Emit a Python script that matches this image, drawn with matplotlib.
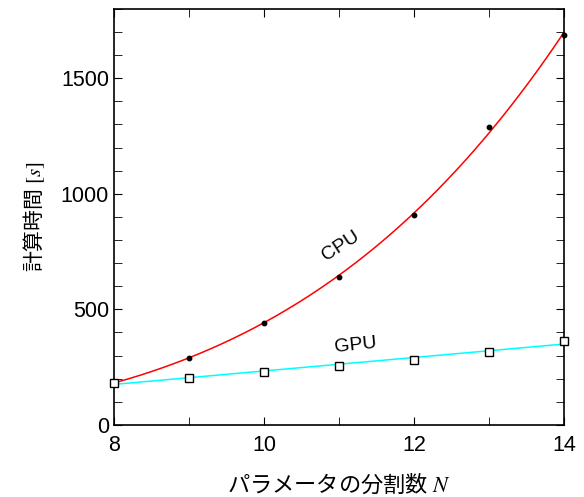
import matplotlib
matplotlib.use('Agg')
import matplotlib.pyplot as plt
import numpy as np
from matplotlib.ticker import MultipleLocator

plt.rcParams['font.family'] = ['Liberation Sans', 'Noto Sans CJK JP', 'DejaVu Sans']
plt.rcParams['mathtext.fontset'] = 'stix'

# 分割数 N
n = [8, 9, 10, 11, 12, 13, 14]
# CPU の計算時間 [s]
cpu = [182, 290, 441, 640, 909, 1290, 1688]
# GPU の計算時間 [s]
gpu = [183, 205, 231, 257, 283, 317, 363]

fig = plt.figure(figsize=(5.84, 4.97), dpi=100)
ax = fig.add_axes([0.195, 0.145, 0.771, 0.837])

# 近似曲線: CPU は N^4, GPU は 1 次式
nn = np.linspace(8, 14, 200)
x = np.array(n, dtype=float)
c4 = np.sum(np.array(cpu) * x ** 4) / np.sum(x ** 8)
ax.plot(nn, c4 * nn ** 4, color='red', lw=1.1, zorder=2)
p = np.polyfit(x, gpu, 1)
ax.plot(nn, np.polyval(p, nn), color='cyan', lw=1.1, zorder=2)

ax.plot(n, cpu, 'o', color='black', ms=3.2, zorder=3, clip_on=False)
ax.plot(n, gpu, 's', mfc='white', mec='black', mew=1.0, ms=5.5, zorder=4, clip_on=False)

ax.text(11.02, 775, 'CPU', fontsize=14, rotation=33, ha='center', va='center')
ax.text(11.22, 346, 'GPU', fontsize=14, rotation=6, ha='center', va='center')

ax.set_xlim(8, 14)
ax.set_ylim(0, 1800)
ax.xaxis.set_major_locator(MultipleLocator(2))
ax.xaxis.set_minor_locator(MultipleLocator(1))
ax.yaxis.set_major_locator(MultipleLocator(500))
ax.yaxis.set_minor_locator(MultipleLocator(100))
ax.tick_params(which='both', direction='in', top=True, right=True, labelsize=15.5)
ax.tick_params(which='major', length=6)
ax.tick_params(which='minor', length=6)
ax.tick_params(axis='x', pad=7)
for s in ax.spines.values():
    s.set_linewidth(1.2)

ax.set_xlabel(r'パラメータの分割数$\ N$', fontsize=16, labelpad=12,
              family=['Noto Sans CJK JP', 'DejaVu Sans'])
ax.set_ylabel(r'計算時間$\ [s]$', fontsize=15, labelpad=10,
              family=['Noto Sans CJK JP', 'DejaVu Sans'])

fig.savefig('out.png', dpi=100)
